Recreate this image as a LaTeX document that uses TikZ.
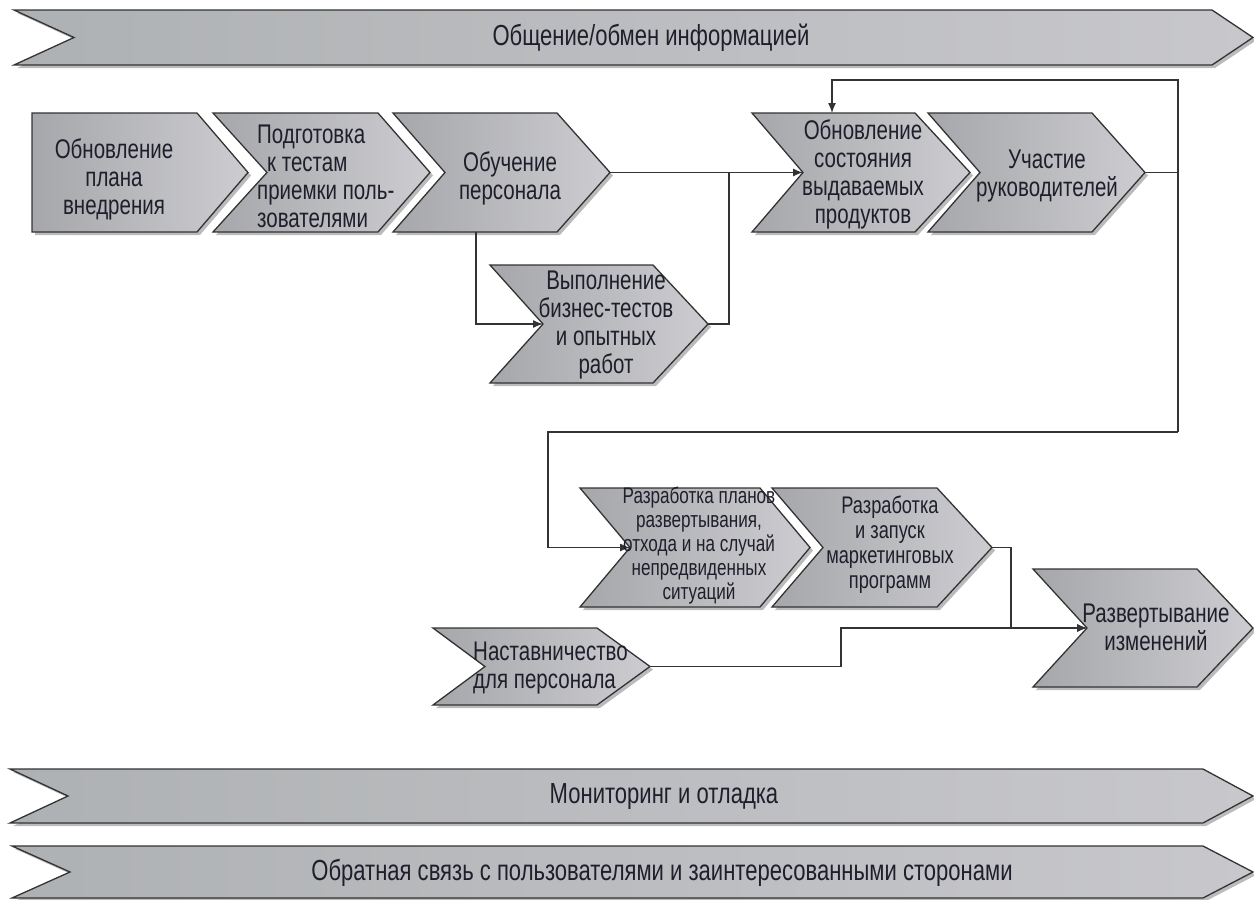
\documentclass[tikz,border=0pt]{standalone}
\usepackage{fontspec}
\newfontfamily\cf[FakeStretch=0.76]{Liberation Sans}
\usetikzlibrary{arrows.meta}

\definecolor{edge}{HTML}{333333}
\definecolor{fillL}{HTML}{A6A7AA}
\definecolor{fillR}{HTML}{CDCDD1}
\definecolor{bandL}{HTML}{AEB1B3}
\definecolor{bandR}{HTML}{C8C8CC}
\definecolor{ink}{HTML}{1F1F2C}
\definecolor{shd}{HTML}{8E8E90}

% chevron: name, left x, top y, top width, height, point depth, notch depth, fill style
\newcommand{\chev}[8]{%
  \begin{scope}[shift={(#2,#3)}]
    \fill[shd,opacity=.6] (3,3) -- ++(#4,0) -- ++(#6,#5/2) -- ++(-#6,#5/2)
      -- ++(-#4,0) -- ++(#7,-#5/2) -- cycle;
    \path[draw=edge, line width=1.3pt, #8] (0,0) -- ++(#4,0) -- ++(#6,#5/2)
      -- ++(-#6,#5/2) -- ++(-#4,0) -- ++(#7,-#5/2) -- cycle;
    \coordinate (#1-tip) at (#4+#6,#5/2);
    \coordinate (#1-notch) at (#7,#5/2);
  \end{scope}}

\tikzset{
  boxfill/.style={left color=fillL, right color=fillR},
  bandfill/.style={left color=bandL, right color=bandR},
  txt/.style={font=\cf\fontsize{27}{28}\selectfont, text=ink, inner sep=0pt, align=center},
  smalltxt/.style={txt, font=\cf\fontsize{22.5}{24}\selectfont},
  midtxt/.style={txt, font=\cf\fontsize{24}{25}\selectfont},
  bandtxt/.style={txt, font=\cf\fontsize{29}{30}\selectfont},
  link/.style={draw=edge, line width=1.3pt},
  arrowlink/.style={link, -{Latex[length=10pt,width=8pt]}}
}

\begin{document}
\begin{tikzpicture}[x=1pt,y=-1pt]
\useasboundingbox (0,0) rectangle (1254,900);

% bands
\chev{top}{14}{10}{1198}{55}{41}{60}{bandfill}
\chev{mon}{10}{769}{1193}{54}{50}{58}{bandfill}
\chev{fb}{12}{846}{1191}{52}{50}{58}{bandfill}

% upper row
\chev{c1}{32}{113}{165}{119}{51}{0}{boxfill}
\chev{c2}{213}{113}{165}{119}{52}{54}{boxfill}
\chev{c3}{393}{113}{164}{119}{53}{52}{boxfill}
\chev{vyp}{490}{265}{163}{118}{55}{53}{boxfill}
\chev{c4}{752}{113}{163}{119}{55}{51}{boxfill}
\chev{c5}{928}{113}{164}{119}{53}{52}{boxfill}

% lower row
\chev{razr1}{580}{488}{180}{119}{50}{50}{boxfill}
\chev{razr2}{772}{488}{165}{119}{55}{51}{boxfill}
\chev{razv}{1033}{569}{164}{118}{56}{54}{boxfill}
\chev{nast}{433}{628}{164}{77}{53}{52}{boxfill}

% junction points of the connectors
\coordinate (c3-b) at (476,232);
\coordinate (j1) at (729,172.5);
\coordinate (rt) at (1178,80);
\coordinate (rb) at (1178,432);
\coordinate (lb) at (548,432);
\coordinate (c4-top) at (832,113);
\coordinate (j2) at (1011,628);
\coordinate (j3) at (841,628);

% connectors
\draw[arrowlink] (c3-tip) -- (c4-notch);
\draw[arrowlink] (c3-b) |- (vyp-notch);
\draw[link] (vyp-tip) -| (j1);
\draw[arrowlink] (c5-tip) -| (rt) -| (c4-top);
\draw[link] (c5-tip) -| (rb);
\draw[arrowlink] (rb) -- (lb) |- (razr1-notch);
\draw[arrowlink] (razr2-tip) -| (j2) -- (razv-notch);
\draw[arrowlink] (nast-tip) -| (j3) -- (razv-notch);

% labels
\node[bandtxt] (ttop) at (651,38) {Общение/обмен информацией};
\node[bandtxt] (tmon) at (664,797) {Мониторинг и отладка};
\node[bandtxt] (tfb) at (662,873) {Обратная связь с пользователями и заинтересованными сторонами};

\node[txt] (c1) at (114,179) {Обновление\\плана\\внедрения};
\node[txt, align=left, anchor=west] (c2) at (257,176) {Подготовка\\\hspace*{10pt}к тестам\\приемки поль-\\зователями};
\node[txt] (c3) at (510,178) {Обучение\\персонала};
\node[txt] (vyp) at (606,325) {Выполнение\\бизнес-тестов\\и опытных\\работ};
\node[txt] (c4) at (863,174) {Обновление\\состояния\\выдаваемых\\продуктов};
\node[txt] (c5) at (1047,176) {Участие\\руководителей};

\node[smalltxt] (razr1) at (699,546) {Разработка планов\\развертывания,\\отхода и на случай\\непредвиденных\\ситуаций};
\node[midtxt] (razr2) at (890,545) {Разработка\\и запуск\\маркетинговых\\программ};
\node[txt] (razv) at (1156,627) {Развертывание\\изменений};
\node[txt, align=left, anchor=west] (nast) at (473,668) {Наставничество\\для персонала};
\end{tikzpicture}
\end{document}
